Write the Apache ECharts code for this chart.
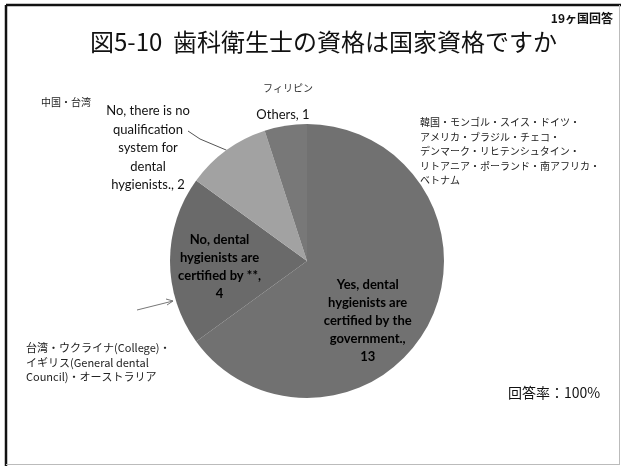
<!DOCTYPE html>
<html>
<head>
<meta charset="utf-8">
<script src="https://cdn.jsdelivr.net/npm/echarts@6/dist/echarts.min.js"></script>
<style>
  html, body { margin: 0; padding: 0; background: #fff; }
  #main { width: 621px; height: 466px; }
</style>
</head>
<body>
<div id="main"></div>
<script>
// 回答の区分と国数
const answerNames = [
  'Yes, dental\nhygienists are\ncertified by the\ngovernment.',
  'No, dental\nhygienists are\ncertified by **',
  'No, there is no\nqualification\nsystem for\ndental\nhygienists.',
  'Others'
]
const countryCounts = [13, 4, 2, 1]
const valueSeparators = [',\n', ',\n', ', ', ', ']
const sliceColors = ['#717171', '#6a6a6a', '#a2a2a2', '#787878']

// 注記（国名）
const noteRight = '韓国・モンゴル・スイス・ドイツ・\nアメリカ・ブラジル・チェコ・\nデンマーク・リヒテンシュタイン・\nリトアニア・ポーランド・南アフリカ・\nベトナム'
const noteLeftBottom = '台湾・ウクライナ(College)・\nイギリス(General dental\nCouncil)・オーストラリア'
const noteChina = '中国・台湾'
const notePhilippines = 'フィリピン'

const titleText = '図5-10  歯科衛生士の資格は国家資格ですか'
const respondText = '19ヶ国回答'
const rateText = '回答率：100%'

const latin = 'Lato, "Noto Sans", sans-serif'
const jp = '"Noto Sans CJK JP", sans-serif'

const chart = echarts.init(document.getElementById('main'))
chart.setOption({
  animation: false,
  backgroundColor: '#fff',
  graphic: [
    // 枠線
    { type: 'line', shape: { x1: 6, y1: 5, x2: 621, y2: 5 }, style: { stroke: '#111', lineWidth: 2.5 } },
    { type: 'line', shape: { x1: 6, y1: 5, x2: 6, y2: 466 }, style: { stroke: '#111', lineWidth: 2.5 } },
    { type: 'line', shape: { x1: 619.5, y1: 5, x2: 619.5, y2: 464 }, style: { stroke: '#bbb', lineWidth: 1 } },
    { type: 'line', shape: { x1: 6, y1: 464.5, x2: 620, y2: 464.5 }, style: { stroke: '#bbb', lineWidth: 1 } },
    // タイトル
    { type: 'text', x: 90, y: 30, style: { text: titleText, font: '24px ' + jp, fill: '#111' } },
    { type: 'text', right: 8, top: 12, style: { text: respondText, font: 'bold 12px ' + jp, fill: '#111' } },
    // 注記
    { type: 'text', x: 41, y: 97, style: { text: noteChina, font: '10px ' + jp, fill: '#222' } },
    { type: 'text', x: 263, y: 83, style: { text: notePhilippines, font: '10px ' + jp, fill: '#333' } },
    { type: 'text', x: 420, y: 115, style: { text: noteRight, font: '10px ' + jp, fill: '#222', lineHeight: 14.5 } },
    { type: 'text', x: 26, y: 341, style: { text: noteLeftBottom, font: '11px ' + jp, fill: '#222', lineHeight: 14.5 } },
    { type: 'text', x: 508, y: 386, style: { text: rateText, font: '14px ' + jp, fill: '#111' } },
    // 矢印
    { type: 'polyline', shape: { points: [[137, 310], [173, 301]] }, style: { stroke: '#777', lineWidth: 1, fill: null } },
    { type: 'polyline', shape: { points: [[166, 299], [173, 301], [167, 305]] }, style: { stroke: '#777', lineWidth: 1, fill: null } }
  ],
  series: [{
    type: 'pie',
    center: [307, 261],
    radius: 137,
    startAngle: 90,
    clockwise: true,
    silent: true,
    data: answerNames.map((name, i) => ({
      name: name,
      value: countryCounts[i],
      itemStyle: { color: sliceColors[i] },
      label: i < 2
        ? { position: 'inside', fontWeight: 'bold', color: '#000', lineHeight: 18 }
        : { position: 'outside', fontWeight: 'normal', color: '#111', lineHeight: 18.5 },
      labelLine: { show: i === 2 }
    })),
    label: {
      show: true,
      fontFamily: latin,
      fontSize: 13,
      align: 'center',
      formatter: p => p.name + valueSeparators[p.dataIndex] + p.value
    },
    labelLine: { length: 12, length2: 10, lineStyle: { color: '#555', width: 1 } },
    labelLayout: p => {
      if (p.dataIndex === 0) return { dx: -3, dy: 27 }
      if (p.dataIndex === 1) return { dx: -16, dy: 6 }
      if (p.dataIndex === 2) {
        const start = p.labelLinePoints ? p.labelLinePoints[0] : [226, 152]
        return {
          x: 148, y: 148, align: 'center', verticalAlign: 'middle',
          labelLinePoints: [start, [200, 139], [188, 131]]
        }
      }
      if (p.dataIndex === 3) return { x: 283, y: 115, align: 'center', verticalAlign: 'middle' }
      return {}
    },
    emphasis: { disabled: true }
  }]
})
</script>
</body>
</html>
